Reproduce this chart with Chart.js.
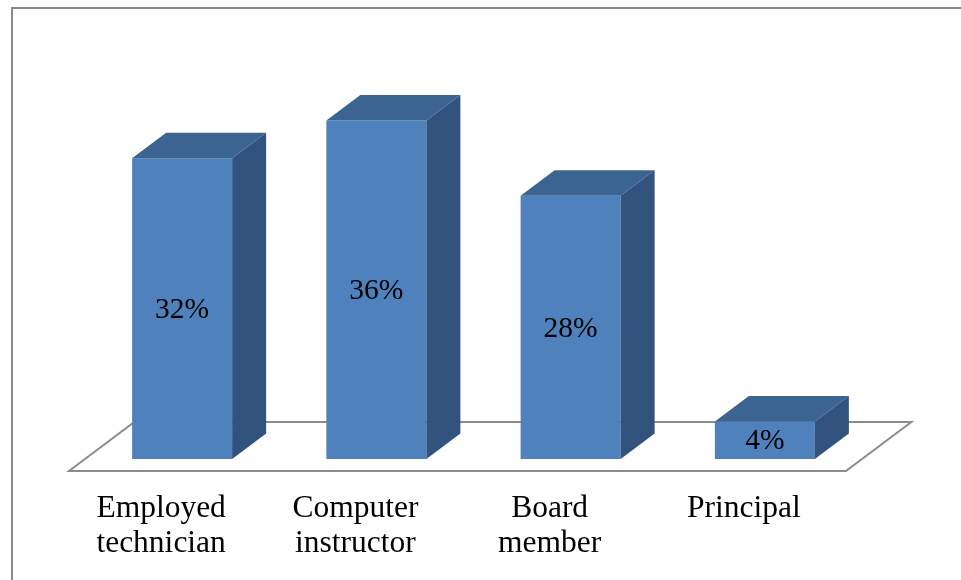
<!DOCTYPE html>
<html>
<head>
<meta charset="utf-8">
<script src="https://cdn.jsdelivr.net/npm/chart.js@4"></script>
<style>
html,body{margin:0;padding:0;background:#fff;}
#c{display:block;}
</style>
</head>
<body>
<canvas id="c" width="961" height="580"></canvas>
<script>
const categories = [["Employed","technician"],["Computer","instructor"],["Board","member"],["Principal"]];
const values = [32, 36, 28, 4];
const valueLabels = ["32%", "36%", "28%", "4%"];

const FRONT = '#4F81BD', TOP = '#3C6491', SIDE = '#32537D';
const DX = 34, DY = -25.5;

const frame = {
  id: 'frame',
  beforeDraw(chart) {
    const ctx = chart.ctx;
    ctx.save();
    ctx.fillStyle = '#fff';
    ctx.fillRect(0, 0, chart.width, chart.height);
    ctx.strokeStyle = '#888888';
    ctx.lineWidth = 2;
    ctx.beginPath();
    ctx.moveTo(961, 8);
    ctx.lineTo(12, 8);
    ctx.lineTo(12, 580);
    ctx.stroke();
    ctx.restore();
  },
  beforeDatasetsDraw(chart) {
    const a = chart.chartArea, ctx = chart.ctx;
    const kf = -12 / 25.5, kb = 37 / 25.5;
    const fy = a.bottom + DY * kf, by = a.bottom + DY * kb;
    ctx.save();
    ctx.beginPath();
    ctx.moveTo(a.left + DX * kf, fy);
    ctx.lineTo(a.right + DX * kf, fy);
    ctx.lineTo(a.right + DX * kb, by);
    ctx.lineTo(a.left + DX * kb, by);
    ctx.closePath();
    ctx.fillStyle = '#fff';
    ctx.fill();
    ctx.strokeStyle = '#8c8c8c';
    ctx.lineWidth = 2;
    ctx.stroke();
    ctx.restore();
  },
  afterDatasetsDraw(chart) {
    const ctx = chart.ctx;
    const meta = chart.getDatasetMeta(0);
    ctx.save();
    meta.data.forEach((bar, i) => {
      const p = bar.getProps(['x', 'y', 'base', 'width'], true);
      const l = p.x - p.width / 2, r = p.x + p.width / 2, t = p.y, b = p.base;
      ctx.beginPath();
      ctx.moveTo(l, t); ctx.lineTo(r, t); ctx.lineTo(r + DX, t + DY); ctx.lineTo(l + DX, t + DY); ctx.closePath();
      ctx.fillStyle = TOP; ctx.fill();
      ctx.beginPath();
      ctx.moveTo(r, t); ctx.lineTo(r + DX, t + DY); ctx.lineTo(r + DX, b + DY); ctx.lineTo(r, b); ctx.closePath();
      ctx.fillStyle = SIDE; ctx.fill();
      ctx.fillStyle = '#000';
      ctx.font = '29.5px "Liberation Serif"';
      ctx.textAlign = 'center';
      ctx.textBaseline = 'middle';
      ctx.fillText(valueLabels[i], p.x, (t + b) / 2 + 1.5);
    });
    ctx.restore();
  }
};

new Chart(document.getElementById('c'), {
  type: 'bar',
  data: {
    labels: categories,
    datasets: [{
      data: values,
      backgroundColor: FRONT,
      borderWidth: 0,
      barPercentage: 1,
      categoryPercentage: 0.515
    }]
  },
  options: {
    responsive: false,
    animation: false,
    devicePixelRatio: 1,
    layout: { padding: { left: 85, right: 99, top: 83, bottom: 0 } },
    plugins: { legend: { display: false }, tooltip: { enabled: false } },
    scales: {
      y: { display: false, min: 0, max: 40 },
      x: {
        grid: { display: false, drawTicks: false },
        border: { display: false },
        ticks: {
          color: '#000',
          font: { family: '"Liberation Serif"', size: 31.5, lineHeight: 35 / 31.5 },
          padding: 32,
          labelOffset: -21,
          maxRotation: 0,
          autoSkip: false
        },
        afterFit(scale) { scale.height = 121; }
      }
    }
  },
  plugins: [frame]
});
</script>
</body>
</html>
